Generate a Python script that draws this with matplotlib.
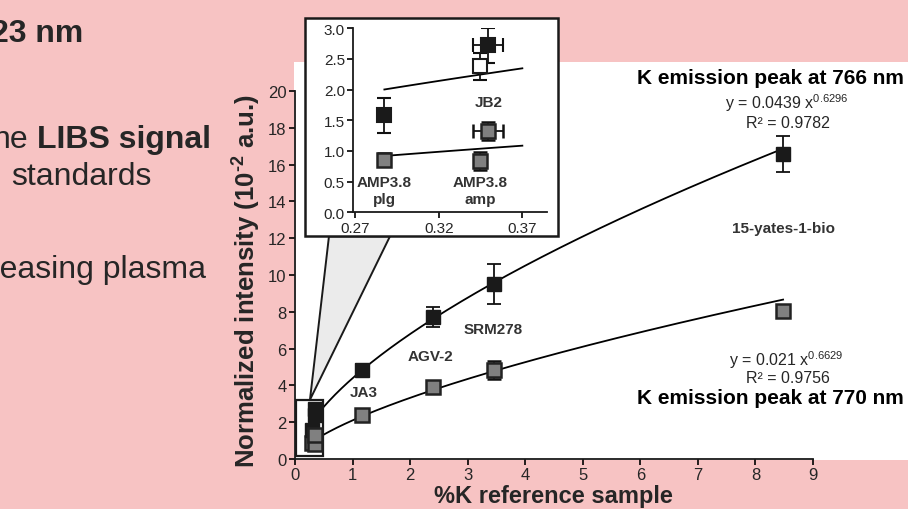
import numpy as np
import matplotlib
matplotlib.use("Agg")
import matplotlib.pyplot as plt
from matplotlib.patches import Rectangle, Polygon

plt.rcParams['font.family'] = ['Liberation Sans', 'DejaVu Sans']
plt.rcParams['mathtext.fontset'] = 'custom'
plt.rcParams['mathtext.rm'] = 'Liberation Sans'
plt.rcParams['mathtext.bf'] = 'Liberation Sans:bold'

# reference samples
names = ["AMP3.8 plg", "AMP3.8 amp", "JB2", "JA3", "AGV-2", "SRM278", "15-yates-1-bio"]
k_pct = [0.2874, 0.3447, 0.3493, 1.16, 2.39, 3.45, 8.48]
k_err = [0.0, 0.0, 0.009, 0.0, 0.0, 0.0, 0.0]
i766 = [1.58, 2.38, 2.72, 4.85, 7.70, 9.51, 16.58]
i766_err = [0.28, 0.22, 0.28, 0.3, 0.55, 1.1, 1.0]
i770 = [0.86, 0.84, 1.33, 2.41, 3.90, 4.85, 8.03]
i770_err = [0.11, 0.15, 0.15, 0.1, 0.1, 0.5, 0.3]
face766_inset = ['#1a1a1a', 'white', '#1a1a1a', '#1a1a1a', '#1a1a1a', '#1a1a1a', '#1a1a1a']

# power fits y = a x^b (in 10^-2 a.u.)
fit766 = (4.39, 0.6296)
fit770 = (2.10, 0.6629)

PINK = '#f7c3c3'
TXT = '#262626'
W, H = 908, 510

fig = plt.figure(figsize=(9.08, 5.10), dpi=100)
fig.patch.set_facecolor(PINK)

def fx(px):
    return px / W

def fy(py):
    return 1 - py / H

# white panel of the slide
fig.add_artist(Rectangle((fx(294), fy(461)), fx(908) - fx(294), fy(63) - fy(461),
                         transform=fig.transFigure, facecolor='white', edgecolor='none', zorder=-5))

# slide text on the left (cut off by the crop)
fig.text(fx(83), fy(42), "23 nm", fontsize=23, fontweight='bold', color=TXT, ha='right')
fig.text(fx(28), fy(148), "ne", fontsize=23, color=TXT, ha='right')
fig.text(fx(211), fy(148), "LIBS signal", fontsize=23, fontweight='bold', color=TXT, ha='right')
fig.text(fx(11), fy(185), "standards", fontsize=23, color=TXT)
fig.text(fx(206), fy(278), "reasing plasma", fontsize=23, color=TXT, ha='right')

# main axes
ax = fig.add_axes([fx(295), fy(460), fx(813) - fx(295), fy(92) - fy(460)])
ax.set_facecolor('none')
ax.set_xlim(0, 9)
ax.set_ylim(0, 20)
ax.set_xticks(range(0, 10))
ax.set_yticks(range(0, 21, 2))
for s in ['top', 'right']:
    ax.spines[s].set_visible(False)
for s in ['left', 'bottom']:
    ax.spines[s].set_linewidth(1.3)
    ax.spines[s].set_color('#1a1a1a')
ax.tick_params(direction='out', length=4, width=1.2, labelsize=12, labelcolor=TXT, pad=2)

fig.text(fx(553), fy(497), "%K reference sample", fontsize=17, fontweight='bold',
         color=TXT, ha='center', va='center')
fig.text(fx(246), fy(281), "Normalized intensity (10$^{\\mathbf{\u2010}\\mathbf{2}}$ a.u.)",
         fontsize=18.5, fontweight='bold', color=TXT, ha='center', va='center', rotation=90)

xs = np.linspace(k_pct[0], k_pct[-1], 300)
ax.plot(xs, fit766[0] * xs ** fit766[1], color='black', lw=1.3, zorder=2)
ax.plot(xs, fit770[0] * xs ** fit770[1], color='black', lw=1.3, zorder=2)

# zoom connector and small box
ax.add_patch(Polygon([(0.26, 3.22), (0.59, 12.1), (1.65, 12.1)], closed=True,
                     facecolor='#ebebeb', edgecolor='#1a1a1a', lw=1.4, zorder=2.5))
ax.add_patch(Rectangle((0.02, 0.18), 0.46, 3.04, facecolor='white',
                       edgecolor='#1a1a1a', lw=1.6, zorder=3))

for i in range(len(k_pct)):
    ax.errorbar(k_pct[i], i770[i], yerr=i770_err[i], fmt='s', ms=10,
                mfc='#808080', mec='#222222', mew=1.8, ecolor='#111111',
                elinewidth=1.3, capsize=5, capthick=1.3, zorder=4)
    ax.errorbar(k_pct[i], i766[i], yerr=i766_err[i], fmt='s', ms=10.5,
                mfc='#1a1a1a', mec='#1a1a1a', ecolor='#111111',
                elinewidth=1.3, capsize=5, capthick=1.3, zorder=4)

lab = dict(fontsize=11, fontweight='bold', color='#333333', ha='center', va='center')
ax.text(1.2, 3.64, "JA3", **lab)
ax.text(2.36, 5.6, "AGV-2", **lab)
ax.text(3.45, 7.07, "SRM278", **lab)
ax.text(8.48, 12.55, "15-yates-1-bio", **lab)

ax.text(8.26, 20.76, "K emission peak at 766 nm", fontsize=15, fontweight='bold',
        color='black', ha='center', va='center', clip_on=False)
ax.text(8.54, 19.39, r"y = 0.0439 x$^{0.6296}$", fontsize=11.5, color=TXT, ha='center', va='center')
ax.text(8.56, 18.3, "R² = 0.9782", fontsize=11.5, color=TXT, ha='center', va='center')
ax.text(8.54, 5.43, r"y = 0.021 x$^{0.6629}$", fontsize=11.5, color=TXT, ha='center', va='center')
ax.text(8.56, 4.44, "R² = 0.9756", fontsize=11.5, color=TXT, ha='center', va='center')
ax.text(8.26, 3.35, "K emission peak at 770 nm", fontsize=15, fontweight='bold',
        color='black', ha='center', va='center', clip_on=False)

# inset frame
fig.add_artist(Rectangle((fx(305), fy(237)), fx(558) - fx(305), fy(19) - fy(237),
                         transform=fig.transFigure, facecolor='white',
                         edgecolor='#1a1a1a', lw=1.8, zorder=1))

axi = fig.add_axes([fx(353.3), fy(213.3), fx(547.4) - fx(353.3), fy(29.3) - fy(213.3)])
axi.set_zorder(2)
axi.set_facecolor('none')
axi.set_xlim(0.2688, 0.385)
axi.set_ylim(0, 3)
axi.set_xticks([0.27, 0.32, 0.37])
axi.set_xticklabels(["0.27", "0.32", "0.37"])
axi.set_yticks(np.arange(0, 3.01, 0.5))
axi.set_yticklabels([f"{v:.1f}" for v in np.arange(0, 3.01, 0.5)])
for s in ['top', 'right']:
    axi.spines[s].set_visible(False)
for s in ['left', 'bottom']:
    axi.spines[s].set_linewidth(1.3)
    axi.spines[s].set_color('#1a1a1a')
axi.tick_params(direction='out', length=4, width=1.2, labelsize=11, labelcolor=TXT, pad=2)

xi = np.linspace(k_pct[0], 0.37, 100)
axi.plot(xi, fit766[0] * xi ** fit766[1], color='black', lw=1.3, zorder=2)
axi.plot(xi, fit770[0] * xi ** fit770[1], color='black', lw=1.3, zorder=2)

for i in range(3):
    axi.errorbar(k_pct[i], i770[i], yerr=i770_err[i], xerr=k_err[i] if k_err[i] else None,
                 fmt='s', ms=10, mfc='#808080', mec='#222222', mew=1.8, ecolor='#111111',
                 elinewidth=1.3, capsize=5, capthick=1.3, zorder=4)
    axi.errorbar(k_pct[i], i766[i], yerr=i766_err[i], xerr=k_err[i] if k_err[i] else None,
                 fmt='s', ms=10.5, mfc=face766_inset[i], mec='#1a1a1a', mew=1.5,
                 ecolor='#111111', elinewidth=1.3, capsize=5, capthick=1.3, zorder=4)

axi.text(k_pct[0], 0.35, "AMP3.8\nplg", linespacing=1.25, **lab)
axi.text(k_pct[1], 0.35, "AMP3.8\namp", linespacing=1.25, **lab)
axi.text(0.350, 1.80, "JB2", **lab)

fig.savefig("out.png", dpi=100, facecolor=fig.get_facecolor())
